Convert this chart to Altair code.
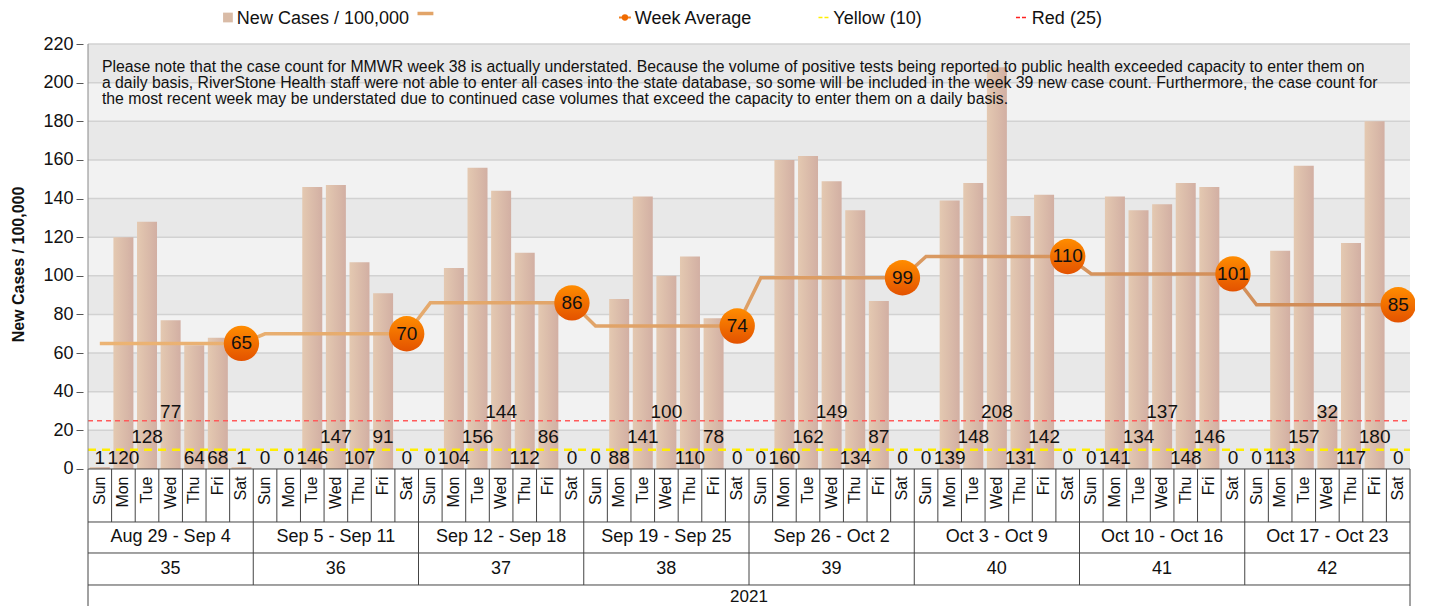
import altair as alt
import pandas as pd

# ---------------- data ----------------
days = ["Sun", "Mon", "Tue", "Wed", "Thu", "Fri", "Sat"]
week_numbers = ["35", "36", "37", "38", "39", "40", "41", "42"]
week_ranges = ["Aug 29 - Sep 4", "Sep 5 - Sep 11", "Sep 12 - Sep 18", "Sep 19 - Sep 25",
               "Sep 26 - Oct 2", "Oct 3 - Oct 9", "Oct 10 - Oct 16", "Oct 17 - Oct 23"]
year_label = "2021"
new_cases = [1, 120, 128, 77, 64, 68, 1,
             0, 0, 146, 147, 107, 91, 0,
             0, 104, 156, 144, 112, 86, 0,
             0, 88, 141, 100, 110, 78, 0,
             0, 160, 162, 149, 134, 87, 0,
             0, 139, 148, 208, 131, 142, 0,
             0, 141, 134, 137, 148, 146, 0,
             0, 113, 157, 32, 117, 180, 0]
week_average = [65, 70, 86, 74, 99, 110, 101, 85]
yellow_level = 10
red_level = 25
y_ticks = list(range(0, 221, 20))
note_lines = [
    "Please note that the case count for MMWR week 38 is actually understated. Because the volume of positive tests being reported to public health exceeded capacity to enter them on",
    "a daily basis, RiverStone Health staff were not able to enter all cases into the state database, so some will be included in the week 39 new case count. Furthermore, the case count for",
    "the most recent week may be understated due to continued case volumes that exceed the capacity to enter them on a daily basis.",
]
# label stagger tier per day (0 = low, 1 = middle, 2 = high) -- layout only
label_tier = [0, 0, 1, 2, 0, 0, 0,
              0, 0, 0, 1, 0, 1, 0] + [0, 0, 1, 2, 0, 1, 0] * 6

# ---------------- layout ----------------
FONT = "Liberation Sans"
W, H = 1332, 562
NDAYS = len(new_cases)
Y_MIN, Y_MAX = -70.92, 220
PX_PER_UNIT = H / (Y_MAX - Y_MIN)
PX_PER_DAY = W / NDAYS

def py(page_y):  # page pixel -> y data units
    return (469 - page_y) / PX_PER_UNIT

def px(page_x):  # page pixel -> x data units
    return (page_x - 83) / PX_PER_DAY

tier_y = [py(458.3), py(436.7), py(412.5)]
row_day_bottom = py(522)
row_range_bottom = py(553)
row_week_bottom = py(585)

xs = alt.Scale(domain=[0, NDAYS], nice=False, zero=False)
ys = alt.Scale(domain=[Y_MIN, Y_MAX], nice=False, zero=False)
yaxis = alt.Axis(values=y_ticks, labelFontSize=18, labelFont=FONT, labelColor="#111",
                 tickColor="#555", tickSize=7, tickWidth=1, domain=False, grid=False,
                 labelPadding=3, title="New Cases / 100,000", titleFont=FONT,
                 titleFontSize=16, titleFontWeight="bold", titleColor="#111",
                 titleAngle=270, titleX=-65, titleY=220, titleAlign="center",
                 titleBaseline="middle")

def X(f):
    return alt.X(f, type="quantitative", scale=xs, axis=None)

def Y(f):
    return alt.Y(f, type="quantitative", scale=ys, axis=yaxis)

# frames
bands = pd.DataFrame({"y0": y_ticks[:-1], "y1": y_ticks[1:],
                      "shade": ["d" if i % 2 == 0 else "l" for i in range(len(y_ticks) - 1)]})
bands["x0"] = 0
bands["x1"] = NDAYS

grid = pd.DataFrame({"y": y_ticks[1:], "x0": 0, "x1": NDAYS})

daily = pd.DataFrame({
    "x": [i + 0.5 for i in range(NDAYS)],
    "cases": new_cases,
    "base": 0,
    "avg": [week_average[i // 7] for i in range(NDAYS)],
    "day": [days[i % 7] for i in range(NDAYS)],
    "ly": [tier_y[t] for t in label_tier],
    "lab": [str(v) for v in new_cases],
})
sats = daily[daily["day"] == "Sat"].copy()
sats["alab"] = [str(v) for v in week_average]

weeks = pd.DataFrame({"xc": [7 * i + 3.5 for i in range(len(week_numbers))],
                      "rng": week_ranges, "wk": week_numbers})

thresh = pd.DataFrame({"y": [yellow_level, red_level], "x0": 0, "x1": NDAYS,
                       "name": ["Yellow", "Red"]})

# table lines
vl = []
for i in range(1, NDAYS):
    vl.append({"x": i, "y0": 0, "y1": row_day_bottom})
for i in range(7, NDAYS, 7):
    vl.append({"x": i, "y0": row_day_bottom, "y1": row_week_bottom})
for i in (0, NDAYS):
    vl.append({"x": i, "y0": 0, "y1": Y_MIN})
vlines = pd.DataFrame(vl)
hlines = pd.DataFrame({"y": [0, row_day_bottom, row_range_bottom, row_week_bottom],
                       "x0": 0, "x1": NDAYS})
axisline = pd.DataFrame({"x": [0], "y0": [0], "y1": [220]})

notes = pd.DataFrame({"t": note_lines, "x": px(97), "y": [py(67), py(83), py(99)]})

# ---------------- layers ----------------
band_layer = alt.Chart(bands).mark_rect().encode(
    x=X("x0"), x2="x1", y=Y("y0"), y2="y1",
    color=alt.Color("shade:N", scale=alt.Scale(domain=["d", "l"], range=["#e8e8e8", "#f2f2f2"]), legend=None))

grid_layer = alt.Chart(grid).mark_rule(color="#d2d2d2", strokeWidth=1.5).encode(
    x=X("x0"), x2="x1", y=Y("y"))

bar_grad = alt.Gradient(gradient="linear", x1=0, x2=1, y1=0, y2=0,
                        stops=[alt.GradientStop(color="#e4c9b1", offset=0),
                               alt.GradientStop(color="#d2afa3", offset=1)])
bars = alt.Chart(daily).mark_bar(width=20, color=bar_grad).encode(
    x=X("x"), y=Y("cases"), y2="base")

yellow = alt.Chart(thresh[thresh["name"] == "Yellow"]).mark_rule(
    color="#ffee00", strokeWidth=2.5, strokeDash=[8, 6]).encode(x=X("x0"), x2="x1", y=Y("y"))
red = alt.Chart(thresh[thresh["name"] == "Red"]).mark_rule(
    color="#ff5a5a", strokeWidth=1.5, strokeDash=[5, 4]).encode(x=X("x0"), x2="x1", y=Y("y"))

line_grad = alt.Gradient(gradient="linear", x1=0, x2=1, y1=0, y2=0,
                         stops=[alt.GradientStop(color="#ecb474", offset=0),
                                alt.GradientStop(color="#cf8a56", offset=1)])
avg_line = alt.Chart(daily).mark_line(color=line_grad, strokeWidth=3.5).encode(
    x=X("x"), y=Y("avg"))

circ_grad = alt.Gradient(gradient="linear", x1=0, x2=0, y1=0, y2=1,
                         stops=[alt.GradientStop(color="#ff8c00", offset=0),
                                alt.GradientStop(color="#e35200", offset=1)])
circles = alt.Chart(sats).mark_point(shape="circle", filled=True, size=1250, opacity=1,
                                     fill=circ_grad, strokeWidth=0).encode(x=X("x"), y=Y("avg"))
circ_labels = alt.Chart(sats).mark_text(font=FONT, fontSize=19, color="#111", baseline="middle").encode(
    x=X("x"), y=Y("avg"), text="alab:N")

val_labels = alt.Chart(daily).mark_text(font=FONT, fontSize=19, color="#111", baseline="middle").encode(
    x=X("x"), y=Y("ly"), text="lab:N")

note_layer = alt.Chart(notes).mark_text(font=FONT, fontSize=15.8, color="#111", align="left",
                                        baseline="middle").encode(x=X("x"), y=Y("y"), text="t:N")

vline_layer = alt.Chart(vlines).mark_rule(color="#444", strokeWidth=1).encode(
    x=X("x"), y=Y("y0"), y2="y1")
hline_layer = alt.Chart(hlines).mark_rule(color="#444", strokeWidth=1).encode(
    x=X("x0"), x2="x1", y=Y("y"))
axis_layer = alt.Chart(axisline).mark_rule(color="#888", strokeWidth=1).encode(
    x=X("x"), y=Y("y0"), y2="y1")

day_labels = alt.Chart(daily.assign(dy=py(476.5))).mark_text(
    font=FONT, fontSize=16, color="#111", angle=270, align="right", baseline="middle").encode(
    x=X("x"), y=Y("dy"), text="day:N")
range_labels = alt.Chart(weeks.assign(ry=py(537.5))).mark_text(
    font=FONT, fontSize=18, color="#111", baseline="middle").encode(x=X("xc"), y=Y("ry"), text="rng:N")
wk_labels = alt.Chart(weeks.assign(wy=py(569))).mark_text(
    font=FONT, fontSize=18, color="#111", baseline="middle").encode(x=X("xc"), y=Y("wy"), text="wk:N")
year_df = pd.DataFrame({"x": [NDAYS / 2], "y": [py(597)], "t": [year_label]})
year_layer = alt.Chart(year_df).mark_text(font=FONT, fontSize=17, color="#111", baseline="middle").encode(
    x=X("x"), y=Y("y"), text="t:N")

# ---------------- legend (drawn above the plot) ----------------
leg_text = pd.DataFrame({"t": ["New Cases / 100,000", "Week Average", "Yellow (10)", "Red (25)"],
                         "x": [px(233), px(634), px(834), px(1034)], "y": py(19)})
leg_text_layer = alt.Chart(leg_text).mark_text(font=FONT, fontSize=18, color="#111", align="left",
                                               baseline="middle").encode(x=X("x"), y=Y("y"), text="t:N")
leg_sq = alt.Chart(pd.DataFrame({"x": [px(224)], "y": [py(17.5)]})).mark_point(
    shape="square", filled=True, size=95, opacity=1, color="#d9bba6").encode(x=X("x"), y=Y("y"))
leg_line = alt.Chart(pd.DataFrame({"x0": [px(415)], "x1": [px(431)], "y": [py(13.5)]})).mark_rule(
    color="#e2a468", strokeWidth=3.5).encode(x=X("x0"), x2="x1", y=Y("y"))
leg_dot_line = alt.Chart(pd.DataFrame({"x0": [px(618)], "x1": [px(630)], "y": [py(17.5)]})).mark_rule(
    color="#f08020", strokeWidth=2).encode(x=X("x0"), x2="x1", y=Y("y"))
leg_dot = alt.Chart(pd.DataFrame({"x": [px(624)], "y": [py(17.5)]})).mark_point(
    shape="circle", filled=True, size=40, opacity=1, color="#f06a00").encode(x=X("x"), y=Y("y"))
leg_yellow = alt.Chart(pd.DataFrame({"x0": [px(819)], "x1": [px(830)], "y": [py(17.5)]})).mark_rule(
    color="#ffee00", strokeWidth=1.5, strokeDash=[4, 2]).encode(x=X("x0"), x2="x1", y=Y("y"))
leg_red = alt.Chart(pd.DataFrame({"x0": [px(1018)], "x1": [px(1030)], "y": [py(17.5)]})).mark_rule(
    color="#ff2020", strokeWidth=1.5, strokeDash=[4, 2]).encode(x=X("x0"), x2="x1", y=Y("y"))

chart = alt.layer(
    band_layer, grid_layer, bars, yellow, red, avg_line, circles, circ_labels, val_labels,
    note_layer, vline_layer, hline_layer, axis_layer, day_labels, range_labels, wk_labels,
    year_layer, leg_text_layer, leg_sq, leg_line, leg_dot_line, leg_dot, leg_yellow, leg_red
).properties(
    width=W, height=H,
    autosize=alt.AutoSizeParams(type="none"),
    padding={"left": 75, "top": 36, "right": 0, "bottom": 0},
    background="white",
).configure_view(stroke=None)

chart.save("out.html", embed_options={"renderer": "svg", "actions": False})
